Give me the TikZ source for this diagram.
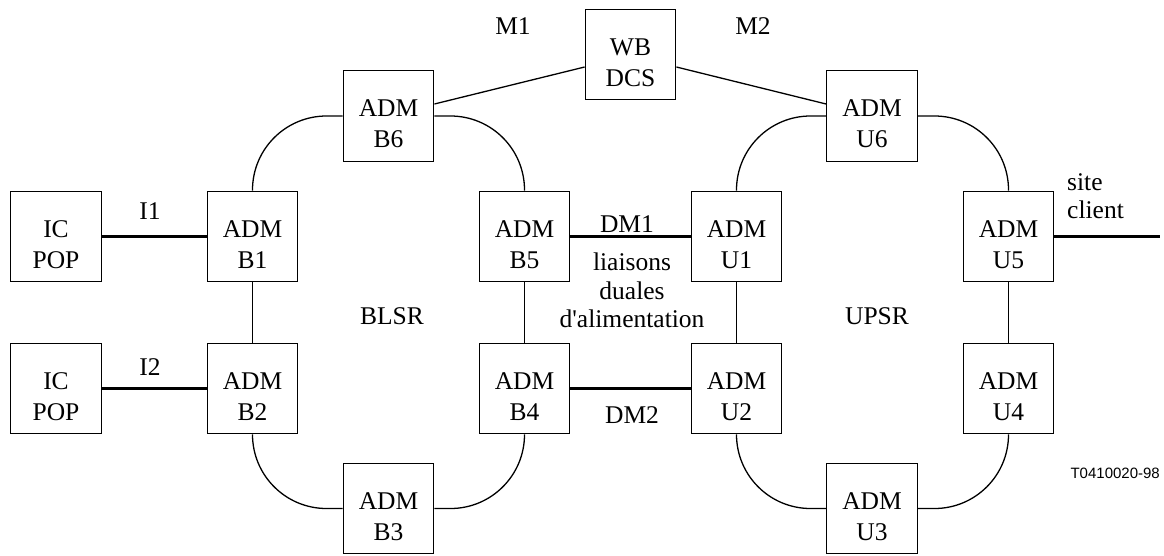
\documentclass[tikz,border=0pt]{standalone}
\usepackage{fontspec}
\setmainfont{Liberation Serif}
\newfontfamily\tagfont{Liberation Sans}
\usetikzlibrary{calc}
\begin{document}
\begin{tikzpicture}[x={(1pt,0)}, y={(0,-1pt)},
  box/.style={draw, line width=1.3pt, minimum width=90.5pt, minimum height=90.5pt, inner sep=0pt, align=center, font=\fontsize{25.5}{31}\selectfont, text height=63pt, text depth=0pt},
  lbl/.style={font=\fontsize{25.5}{31}\selectfont, inner sep=0pt, anchor=base},
  link/.style={line width=1.3pt},
  heavy/.style={line width=2.3pt},
  ring/.style={line width=1.3pt, rounded corners=74pt}]
\useasboundingbox (0,0) rectangle (1164,555);
% boxes
\node[box] (IC1) at (56,236.5) {IC\\POP};
\node[box] (IC2) at (56,388.5) {IC\\POP};
\node[box] (B1) at (252.5,236.5) {ADM\\B1};
\node[box] (B2) at (252.5,388.5) {ADM\\B2};
\node[box] (B6) at (388.5,116) {ADM\\B6};
\node[box] (B3) at (388.5,508.5) {ADM\\B3};
\node[box] (B5) at (524.5,236.5) {ADM\\B5};
\node[box] (B4) at (524.5,388.5) {ADM\\B4};
\node[box] (WB) at (630.5,54.5) {WB\\DCS};
\node[box] (U1) at (736.5,236.5) {ADM\\U1};
\node[box] (U2) at (736.5,388.5) {ADM\\U2};
\node[box] (U6) at (872,116) {ADM\\U6};
\node[box] (U3) at (872,508.5) {ADM\\U3};
\node[box] (U5) at (1008.5,236.5) {ADM\\U5};
\node[box] (U4) at (1008.5,388.5) {ADM\\U4};
\coordinate (client) at (1160,236.5);
% labels
\node[lbl] (lI1) at (150,219) {I1};
\node[lbl] (lI2) at (150,375) {I2};
\node[lbl] (lM1) at (513,34) {M1};
\node[lbl] (lM2) at (753,34) {M2};
\node[lbl] (lDM1) at (627,232) {DM1};
\node[lbl] (lDM2) at (632,423) {DM2};
\node[lbl] (lli) at (632,270) {liaisons};
\node[lbl] (ldu) at (632,299) {duales};
\node[lbl] (lal) at (632,327) {d\textquotesingle alimentation};
\node[lbl] (lBLSR) at (392,324) {BLSR};
\node[lbl] (lUPSR) at (877,324) {UPSR};
\node[lbl, anchor=base west] (lsite) at (1067,190) {site};
\node[lbl, anchor=base west] (lclient) at (1067,218) {client};
\node[font=\tagfont\fontsize{15}{18}\selectfont, inner sep=0pt, anchor=base east] (tag) at (1160,478) {T0410020-98};
% straight links
\draw[heavy] (IC1) -- (B1);
\draw[heavy] (IC2) -- (B2);
\draw[heavy] (B5) -- (U1);
\draw[heavy] (B4) -- (U2);
\draw[heavy] (U5) -- (client);
\draw[link] (B1) -- (B2);
\draw[link] (B5) -- (B4);
\draw[link] (U1) -- (U2);
\draw[link] (U5) -- (U4);
\draw[link] ($(B6.east)+(0,-12)$) -- ($(WB.west)+(0,12.5)$);
\draw[link] ($(WB.east)+(0,12.5)$) -- ($(U6.west)+(0,-12)$);
% ring arcs
\draw[ring] (B1.north) |- (B6.west);
\draw[ring] (B6.east) -| (B5.north);
\draw[ring] (B2.south) |- (B3.west);
\draw[ring] (B3.east) -| (B4.south);
\draw[ring] (U1.north) |- (U6.west);
\draw[ring] (U6.east) -| (U5.north);
\draw[ring] (U2.south) |- (U3.west);
\draw[ring] (U3.east) -| (U4.south);
\end{tikzpicture}
\end{document}
